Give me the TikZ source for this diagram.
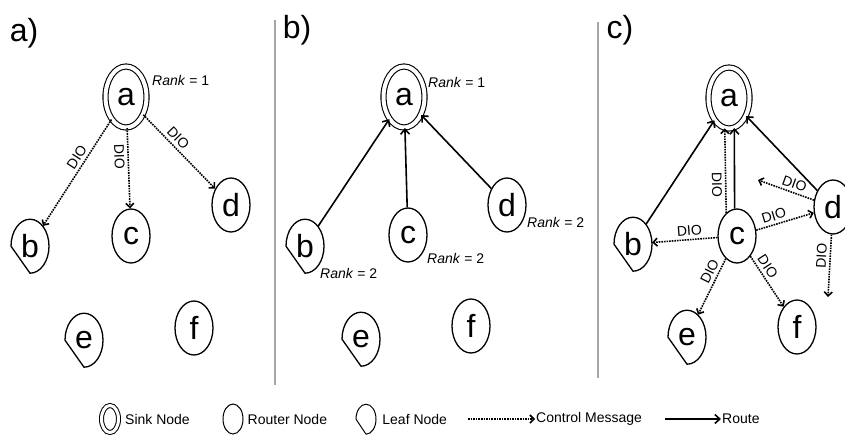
\documentclass[tikz,border=0pt]{standalone}
\usepackage{fontspec}
\setmainfont{Liberation Sans}
\usetikzlibrary{shapes.geometric, arrows.meta, positioning}

\begin{document}
\begin{tikzpicture}[
        x=1pt, y=-1pt,
        letter/.style={font=\fontsize{32}{32}\selectfont},
        sink/.style={ellipse, draw, line width=1.1pt, double, double distance=4pt, minimum width=41pt, minimum height=61pt, inner sep=0pt, letter},
        router/.style={ellipse, draw, line width=1.3pt, minimum width=38pt, minimum height=54pt, inner sep=0pt, letter},
        leaf/.style={ellipse, minimum width=38pt, minimum height=54pt, inner sep=0pt, letter},
        leafline/.style={line width=1.3pt, line join=round},
        dio/.style={font=\fontsize{14}{14}\selectfont, inner sep=3pt},
        rank/.style={font=\fontsize{14}{14}\selectfont, anchor=west, inner sep=0pt},
        legtext/.style={font=\fontsize{14}{14}\selectfont, anchor=west, inner sep=0pt},
        ctrl/.style={densely dotted, line width=1.6pt, -{Straight Barb[length=4pt,width=8pt]}},
        route/.style={line width=1.6pt, -{Straight Barb[length=5pt,width=9pt]}},
        sep/.style={gray!70, line width=1.5pt}
    ]
        \useasboundingbox (0,0) rectangle (845,439);

        % panel a)
        \node[letter] (pa) at (24,33) {a)};
        \node[sink] (a1) at (126,97) {a};
        \node[rank] (rank1a) at (152,80) {\textit{Rank} = 1};
        \node[leaf] (b1) at (30,246) {b};
        \node[router] (c1) at (131,236) {c};
        \node[router] (d1) at (231,205) {d};
        \node[leaf] (e1) at (84,340) {e};
        \node[router] (f1) at (194,328) {f};

        \draw[ctrl] (a1) -- node[dio, sloped, above, pos=0.4] {DIO} (b1);
        \draw[ctrl] (a1) -- node[dio, sloped, below, pos=0.35] {DIO} (c1);
        \draw[ctrl] (a1) -- node[dio, sloped, above, pos=0.4] {DIO} (d1);

        \draw[sep] (275,20) -- (275,385);

        % panel b)
        \node[letter] (pb) at (297,30) {b)};
        \node[sink] (a2) at (404,97) {a};
        \node[rank] (rank2a) at (428,82) {\textit{Rank} = 1};
        \node[leaf] (b2) at (305,246) {b};
        \node[router] (c2) at (408,235) {c};
        \node[router] (d2) at (507,205) {d};
        \node[leaf] (e2) at (361,339) {e};
        \node[router] (f2) at (471,326) {f};
        \node[rank] (rank2b) at (320,273) {\textit{Rank} = 2};
        \node[rank] (rank2c) at (427,258) {\textit{Rank} = 2};
        \node[rank] (rank2d) at (527,222) {\textit{Rank} = 2};

        \draw[route] (b2) -- (a2);
        \draw[route] (c2) -- (a2);
        \draw[route] (d2) -- (a2);

        \draw[sep] (598,22) -- (598,378);

        % panel c)
        \node[letter] (pc) at (620,30) {c)};
        \node[sink] (a3) at (729,98) {a};
        \node[leaf] (b3) at (633,244) {b};
        \node[router] (c3) at (737,236) {c};
        \node[router] (d3) at (833,207) {d};
        \node[leaf] (e3) at (687,337) {e};
        \node[router] (f3) at (797,327) {f};
        \coordinate (d3up) at (758,180);
        \coordinate (d3dn) at (828,297);

        \draw[route] (b3) -- (a3);
        \draw[route] (c3.95) -- (a3.280);
        \draw[route] (d3) -- (a3);
        \draw[ctrl] (c3.115) -- node[dio, sloped, below, pos=0.33] {DIO} (a3.262);
        \draw[ctrl] (c3) -- node[dio, sloped, above, pos=0.42] {DIO} (b3);
        \draw[ctrl] (c3) -- node[dio, sloped, above, pos=0.35] {DIO} (d3);
        \draw[ctrl] (c3) -- node[dio, sloped, above, pos=0.3] {DIO} (e3);
        \draw[ctrl] (c3) -- node[dio, sloped, above, pos=0.3] {DIO} (f3);
        \draw[ctrl] (d3) -- node[dio, sloped, above, pos=0.4] {DIO} (d3up);
        \draw[ctrl] (d3) -- node[dio, sloped, above, pos=0.35] {DIO} (d3dn);

        % legend
        \node[sink, minimum width=17pt, minimum height=27pt, double distance=3pt, line width=1pt] (lsink) at (110,419) {};
        \node[legtext, right=6pt of lsink] (tsink) {Sink Node};
        \node[router, minimum width=20pt, minimum height=30pt, line width=1pt] (lrouter) at (233,419) {};
        \node[legtext, right=4pt of lrouter] (trouter) {Router Node};
        \node[leaf, minimum width=20pt, minimum height=30pt] (lleaf) at (366,419) {};
        \node[legtext, right=6pt of lleaf] (tleaf) {Leaf Node};
        \coordinate (lctrl) at (468,419);
        \node[legtext] (tctrl) at (536,419) {Control Message};
        \draw[ctrl, shorten >=1pt] (lctrl) -- (tctrl.west);
        \coordinate (lroute) at (665,419);
        \node[legtext] (troute) at (722,419) {Route};
        \draw[route, shorten >=1pt] (lroute) -- (troute.west);

        % leaf outlines
        \foreach \n/\rx/\ry in {b1/19pt/27pt, e1/19pt/27pt, b2/19pt/27pt, e2/19pt/27pt, b3/19pt/27pt, e3/19pt/27pt}
            \draw[leafline] (\n.south) arc[start angle=-90, end angle=180, x radius=\rx, y radius=\ry] -- cycle;
        \draw[leafline, line width=1pt] (lleaf.south) arc[start angle=-90, end angle=180, x radius=10pt, y radius=15pt] -- cycle;
    \end{tikzpicture}
\end{document}
